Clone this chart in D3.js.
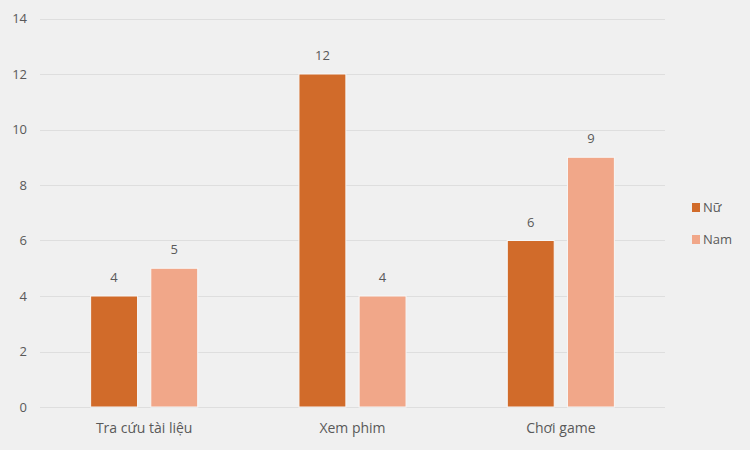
<!DOCTYPE html>
<html>
<head>
<meta charset="UTF-8">
<title>Bar chart</title>
<style>
  body { margin: 0; background: #f0f0f0; }
  svg { background-color: #f0f0f0; font-family: "Open Sans", "DejaVu Sans", sans-serif; }
  .grid line { stroke: #dedede; stroke-width: 1px; }
  .tick-label { fill: #595959; font-size: 13px; }
  .cat-label { fill: #595959; font-size: 14px; }
</style>
</head>
<body>
<script src="https://d3js.org/d3.v7.min.js"></script>
<script type="text/javascript">

// chart data
var categories = ["Tra cứu tài liệu", "Xem phim", "Chơi game"];
var seriesNames = ["Nữ", "Nam"];
var nuValues = [4, 12, 6];
var namValues = [5, 4, 9];
var yTicks = [0, 2, 4, 6, 8, 10, 12, 14];

var colors = { "Nữ": "#d16b2a", "Nam": "#f1a789" };

var width = 750, height = 450;
var plot = { left: 40, right: 665, top: 18.5, bottom: 407 };

var svg = d3.select("body").append("svg")
    .attr("width", width)
    .attr("height", height);

var y = d3.scaleLinear().domain([0, 14]).range([plot.bottom, plot.top]);

var x0 = d3.scaleBand()
    .domain(categories)
    .range([plot.left, plot.right])
    .paddingInner(0.486)
    .paddingOuter(0.243);

var x1 = d3.scaleBand()
    .domain(seriesNames)
    .range([0, x0.bandwidth()])
    .paddingInner(0.22);

// gridlines
svg.append("g").attr("class", "grid")
    .selectAll("line").data(yTicks).enter().append("line")
    .attr("x1", plot.left).attr("x2", plot.right)
    .attr("y1", function(d) { return Math.round(y(d)) + 0.5; })
    .attr("y2", function(d) { return Math.round(y(d)) + 0.5; });

// y tick labels
svg.append("g").selectAll("text").data(yTicks).enter().append("text")
    .attr("class", "tick-label")
    .attr("x", 27)
    .attr("y", function(d) { return y(d); })
    .attr("dy", "0.35em")
    .attr("text-anchor", "end")
    .text(function(d) { return d; });

// bars
var rows = categories.map(function(c, i) {
    return { cat: c, values: [ { s: "Nữ", v: nuValues[i] }, { s: "Nam", v: namValues[i] } ] };
});

var groups = svg.append("g").selectAll("g").data(rows).enter().append("g")
    .attr("transform", function(d) { return "translate(" + x0(d.cat) + ",0)"; });

groups.selectAll("rect").data(function(d) { return d.values; }).enter().append("rect")
    .attr("x", function(d) { return x1(d.s); })
    .attr("y", function(d) { return y(d.v); })
    .attr("width", x1.bandwidth())
    .attr("height", function(d) { return y(0) - y(d.v); })
    .attr("fill", function(d) { return colors[d.s]; })
    .attr("stroke", "#f7f7f7")
    .attr("stroke-width", 1);

groups.selectAll("text.value").data(function(d) { return d.values; }).enter().append("text")
    .attr("class", "tick-label value")
    .attr("x", function(d) { return x1(d.s) + x1.bandwidth() / 2; })
    .attr("y", function(d) { return y(d.v) - 14; })
    .attr("text-anchor", "middle")
    .text(function(d) { return d.v; });

// category labels
svg.append("g").selectAll("text").data(categories).enter().append("text")
    .attr("class", "cat-label")
    .attr("x", function(d) { return x0(d) + x0.bandwidth() / 2; })
    .attr("y", 433)
    .attr("text-anchor", "middle")
    .text(function(d) { return d; });

// legend
var legend = svg.append("g").attr("transform", "translate(692,203)");
var items = legend.selectAll("g").data(seriesNames).enter().append("g")
    .attr("transform", function(d, i) { return "translate(0," + (i * 32) + ")"; });
items.append("rect")
    .attr("width", 8).attr("height", 9)
    .attr("fill", function(d) { return colors[d]; });
items.append("text")
    .attr("class", "tick-label")
    .attr("x", 11).attr("y", 4.5).attr("dy", "0.35em")
    .text(function(d) { return d; });

</script>
</body>
</html>
